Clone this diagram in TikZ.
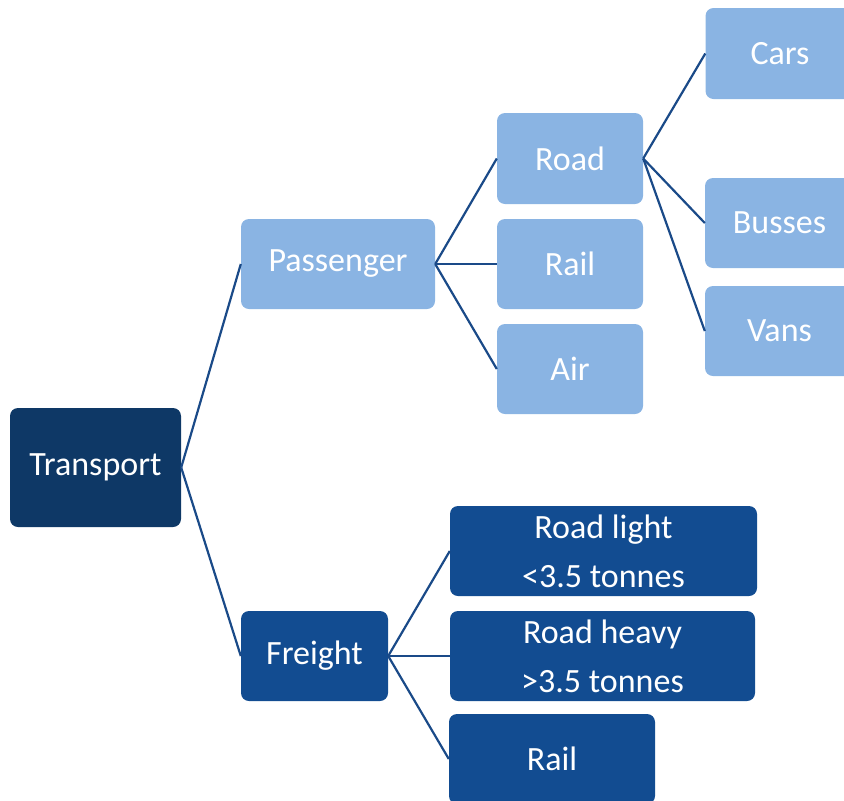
\documentclass[tikz,border=0pt]{standalone}
\usepackage{fontspec}
\setmainfont{Carlito}
\definecolor{transport}{HTML}{0E3866}
\definecolor{passenger}{HTML}{8AB4E3}
\definecolor{freight}{HTML}{124C91}
\definecolor{linkc}{HTML}{1A4A88}
\begin{document}
\begin{tikzpicture}[x=1pt,y=-1pt,
  box/.style={rounded corners=8pt,inner sep=0pt,text=white,align=center,
    font=\fontsize{34}{49}\selectfont,minimum height=90pt},
  link/.style={draw=linkc,line width=2.2pt}]
\clip (0,0) rectangle (844,801);
\node[box,fill=transport,minimum width=171pt,minimum height=119pt] (tr) at (95.5,467.5) {Transport};
\node[box,fill=passenger,minimum width=194pt] (pas) at (338,264) {Passenger};
\node[box,fill=passenger,minimum width=146pt,minimum height=91pt] (road) at (570,158.5) {Road};
\node[box,fill=passenger,minimum width=146pt] (prail) at (570,264) {Rail};
\node[box,fill=passenger,minimum width=146pt] (air) at (570,369) {Air};
\node[box,fill=passenger,minimum width=149pt,minimum height=91pt] (cars) at (780,53.5) {Cars};
\node[box,fill=passenger,minimum width=149pt] (bus) at (779.5,223) {Busses};
\node[box,fill=passenger,minimum width=149pt] (vans) at (779.5,331) {Vans};
\node[box,fill=freight,minimum width=147pt] (fr) at (314.5,656) {Freight};
\node[box,fill=freight,minimum width=307pt] (light) at (603.5,551) {Road light\\<3.5 tonnes};
\node[box,fill=freight,minimum width=305pt] (heavy) at (602.5,656) {Road heavy\\>3.5 tonnes};
\node[box,fill=freight,minimum width=206pt] (frail) at (552,759) {Rail};
% branches
\foreach \a/\b in {tr/pas,tr/fr,pas/road,pas/prail,pas/air,road/cars,road/bus,road/vans,fr/light,fr/heavy,fr/frail}
  \draw[link] (\a.east) -- (\b.west);
\end{tikzpicture}
\end{document}
